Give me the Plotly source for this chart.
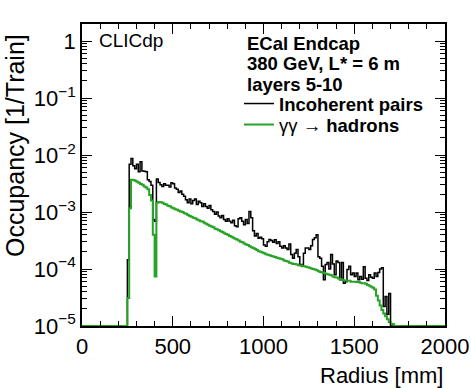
import plotly.graph_objects as go

# ---- data (histograms, 10 mm bins) ----
bin_start = 250      # mm, low edge of first filled bin
bin_width = 10       # mm
incoherent_pairs = [
    1.45e-4, 6.9e-3, 8.7e-3, 6.5e-3, 5.75e-3, 6.9e-3, 5.1e-3, 7.6e-3, 5.25e-3, 5.2e-3,
    5.1e-3, 3.7e-3, 3.45e-3, 2.95e-3, 7.4e-4, 6.9e-4, 3.8e-3, 3.3e-3, 3.0e-3, 2.8e-3,
    3.15e-3, 2.95e-3, 2.95e-3, 2.75e-3, 3.25e-3, 3.15e-3, 2.65e-3, 2.5e-3, 2.2e-3, 2.35e-3,
    2.05e-3, 1.9e-3, 1.65e-3, 1.45e-3, 1.7e-3, 1.4e-3, 1.6e-3, 1.7e-3, 1.35e-3, 1.55e-3,
    1.45e-3, 1.25e-3, 1.4e-3, 1.25e-3, 1.17e-3, 1.3e-3, 1.1e-3, 1.02e-3, 9.1e-4, 1.0e-3,
    8.5e-4, 7.9e-4, 8.7e-4, 7.4e-4, 6.9e-4, 7.6e-4, 6.9e-4, 6.5e-4, 7.2e-4, 5.75e-4,
    5.5e-4, 7.6e-4, 7.9e-4, 6.9e-4, 6.0e-4, 7.4e-4, 6.3e-4, 1.02e-3, 7.9e-4, 4.7e-4,
    3.8e-4, 4.2e-4, 3.45e-4, 3.6e-4, 3.4e-4, 2.65e-4, 2.5e-4, 3.0e-4, 3.3e-4, 3.15e-4,
    2.95e-4, 3.25e-4, 2.8e-4, 3.0e-4, 2.5e-4, 2.35e-4, 2.55e-4, 2.35e-4, 2.2e-4, 2.75e-4,
    1.8e-4, 1.55e-4, 1.9e-4, 2.2e-4, 1.65e-4, 1.2e-4, 1.12e-4, 1.9e-4, 2.35e-4, 2.35e-4,
    2.2e-4, 2.55e-4, 3.3e-4, 3.55e-4, 4.0e-4, 1.65e-4, 1.55e-4, 1.12e-4, 6.5e-5, 1.2e-4,
    1.3e-4, 1.0e-4, 1.8e-4, 1.23e-4, 7.9e-5, 1.38e-4, 1.3e-4, 6.5e-5, 1.3e-4, 5.6e-5,
    6.0e-5, 9.8e-5, 1.12e-4, 7.9e-5, 8.5e-5, 7.4e-5, 8.5e-5, 6.5e-5, 7.4e-5, 6.6e-5,
    1.1e-4, 6.9e-5, 6.3e-5, 7.9e-5, 7.2e-5, 6.9e-5, 8.5e-5, 7.4e-5, 8.7e-5, 1.0e-4,
    1.05e-4, 2.2e-5, 3.3e-5, 1.6e-5, 3.7e-5,
]
gammagamma_hadrons = [
    3.1e-5, 1.17e-3, 3.7e-3, 3.65e-3, 3.55e-3, 3.4e-3, 3.25e-3, 3.1e-3, 3.0e-3, 2.8e-3,
    2.7e-3, 2.5e-3, 2.0e-3, 1.6e-3, 4.0e-4, 7.4e-5, 1.45e-3, 1.5e-3, 1.48e-3, 1.45e-3,
    1.38e-3, 1.35e-3, 1.29e-3, 1.26e-3, 1.2e-3, 1.17e-3, 1.12e-3, 1.10e-3, 1.05e-3, 1.02e-3,
    1.0e-3, 9.5e-4, 9.3e-4, 8.9e-4, 8.5e-4, 8.3e-4, 7.9e-4, 7.8e-4, 7.4e-4, 7.2e-4,
    6.9e-4, 6.8e-4, 6.5e-4, 6.2e-4, 6.0e-4, 5.75e-4, 5.6e-4, 5.4e-4, 5.1e-4, 5.0e-4,
    4.8e-4, 4.6e-4, 4.45e-4, 4.25e-4, 4.1e-4, 4.0e-4, 3.8e-4, 3.7e-4, 3.55e-4, 3.4e-4,
    3.3e-4, 3.15e-4, 3.0e-4, 2.95e-4, 2.8e-4, 2.7e-4, 2.65e-4, 2.5e-4, 2.4e-4, 2.35e-4,
    2.25e-4, 2.15e-4, 2.05e-4, 2.0e-4, 1.95e-4, 1.9e-4, 1.82e-4, 1.78e-4, 1.74e-4, 1.70e-4,
    1.66e-4, 1.62e-4, 1.58e-4, 1.55e-4, 1.51e-4, 1.48e-4, 1.41e-4, 1.38e-4, 1.35e-4, 1.29e-4,
    1.26e-4, 1.23e-4, 1.23e-4, 1.20e-4, 1.17e-4, 1.15e-4, 1.12e-4, 1.12e-4, 1.10e-4, 1.07e-4,
    1.05e-4, 1.02e-4, 1.0e-4, 9.8e-5, 9.5e-5, 9.1e-5, 8.9e-5, 8.7e-5, 8.5e-5, 8.3e-5,
    8.1e-5, 7.9e-5, 7.8e-5, 7.4e-5, 7.2e-5, 7.1e-5, 6.8e-5, 6.6e-5, 6.5e-5, 6.3e-5,
    6.3e-5, 6.2e-5, 6.2e-5, 6.0e-5, 6.0e-5, 6.0e-5, 5.9e-5, 5.9e-5, 5.75e-5, 5.6e-5,
    5.6e-5, 5.5e-5, 5.25e-5, 5.1e-5, 4.9e-5, 4.7e-5, 4.35e-5, 3.4e-5, 2.8e-5, 2.3e-5,
    1.9e-5, 1.66e-5, 1.48e-5, 1.32e-5, 1.17e-5, 1.10e-5, 1.07e-5,
]
x_range = [0, 2000]
y_min = 1e-5
y_tick_vals = [1e-5, 1e-4, 1e-3, 1e-2, 1e-1, 1]
y_tick_text = ["10<sup>\u22125</sup>", "10<sup>\u22124</sup>", "10<sup>\u22123</sup>",
               "10<sup>\u22122</sup>", "10<sup>\u22121</sup>", "1"]
y_minor_vals = [m * d for d in [1e-5, 1e-4, 1e-3, 1e-2, 1e-1, 1] for m in range(2, 10)]
x_tick_vals = [0, 500, 1000, 1500, 2000]

FONT = "Liberation Sans, Arial, Helvetica, sans-serif"
GREEN = "#27a327"

# plot-area geometry (pixels)
L, R, T, B = 82, 26, 24, 62
W, H = 471, 388
PW, PH = W - L - R, H - T - B


def px(xp):
    return (xp - L) / PW


def py(yp):
    return (H - B - yp) / PH


def step_xy(values):
    edges = [bin_start + i * bin_width for i in range(len(values) + 1)]
    xs = [x_range[0]] + edges + [x_range[1]]
    ys = [y_min] + list(values) + [y_min, y_min]
    return xs, ys


fig = go.Figure()
xb, yb = step_xy(incoherent_pairs)
fig.add_trace(go.Scatter(x=xb, y=yb, mode="lines", line=dict(color="black", width=1.5, shape="hv"),
                         name="<b>Incoherent pairs</b>", legend="legend"))
xg, yg = step_xy(gammagamma_hadrons)
fig.add_trace(go.Scatter(x=xg, y=yg, mode="lines", line=dict(color=GREEN, width=2, shape="hv"),
                         name="\u03b3\u03b3 \u2192 <b>hadrons</b>", legend="legend2"))

leg_common = dict(xanchor="left", yanchor="middle", bgcolor="rgba(0,0,0,0)",
                  font=dict(size=18.5, family=FONT, color="black"), itemwidth=30, borderwidth=0)

fig.update_layout(
    template="none",
    width=W, height=H,
    margin=dict(l=L, r=R, t=T, b=B, pad=0),
    paper_bgcolor="white", plot_bgcolor="white",
    font=dict(family=FONT, color="black", size=22),
    showlegend=True,
    legend=dict(x=px(239), y=py(104), **leg_common),
    legend2=dict(x=px(239), y=py(125), **leg_common),
    xaxis=dict(range=x_range, showline=True, linecolor="black", linewidth=1.5, mirror="allticks",
               ticks="inside", ticklen=10, tickwidth=1, tickcolor="black",
               tickvals=x_tick_vals, showgrid=False, zeroline=False, automargin=False,
               tickfont=dict(size=22),
               minor=dict(ticks="inside", ticklen=5, dtick=100, tick0=0, tickcolor="black",
                          tickwidth=1, showgrid=False)),
    yaxis=dict(type="log", range=[-5, 0.3], showline=True, linecolor="black", linewidth=1.5,
               mirror="allticks", ticks="inside", ticklen=10, tickwidth=1, tickcolor="black",
               tickvals=y_tick_vals, ticktext=y_tick_text, showgrid=False, zeroline=False,
               automargin=False, tickfont=dict(size=22),
               minor=dict(ticks="inside", ticklen=5, tickmode="array", tickvals=y_minor_vals,
                          tickcolor="black", tickwidth=1, showgrid=False)),
)

ann = [
    dict(text="CLICdp", x=px(97), y=py(40), font=dict(size=19),
         xanchor="left", yanchor="middle"),
    dict(text="<b>ECal Endcap</b>", x=px(245), y=py(43), font=dict(size=18.5),
         xanchor="left", yanchor="middle"),
    dict(text="<b>380 GeV, L* = 6 m</b>", x=px(245), y=py(63.5), font=dict(size=18.5),
         xanchor="left", yanchor="middle"),
    dict(text="<b>layers 5-10</b>", x=px(245), y=py(84), font=dict(size=18.5),
         xanchor="left", yanchor="middle"),
    dict(text="Radius [mm]", x=1, y=py(375), font=dict(size=22),
         xanchor="right", yanchor="middle"),
    dict(text="Occupancy [1/Train]", x=px(15), y=py(146), font=dict(size=25),
         textangle=-90, xanchor="center", yanchor="middle"),
]
for a in ann:
    a.update(xref="paper", yref="paper", showarrow=False)
fig.update_layout(annotations=ann)

fig.write_html("out.html",
               config={"displayModeBar": False},
               post_script="document.body.style.margin='0';document.body.style.padding='0';")
